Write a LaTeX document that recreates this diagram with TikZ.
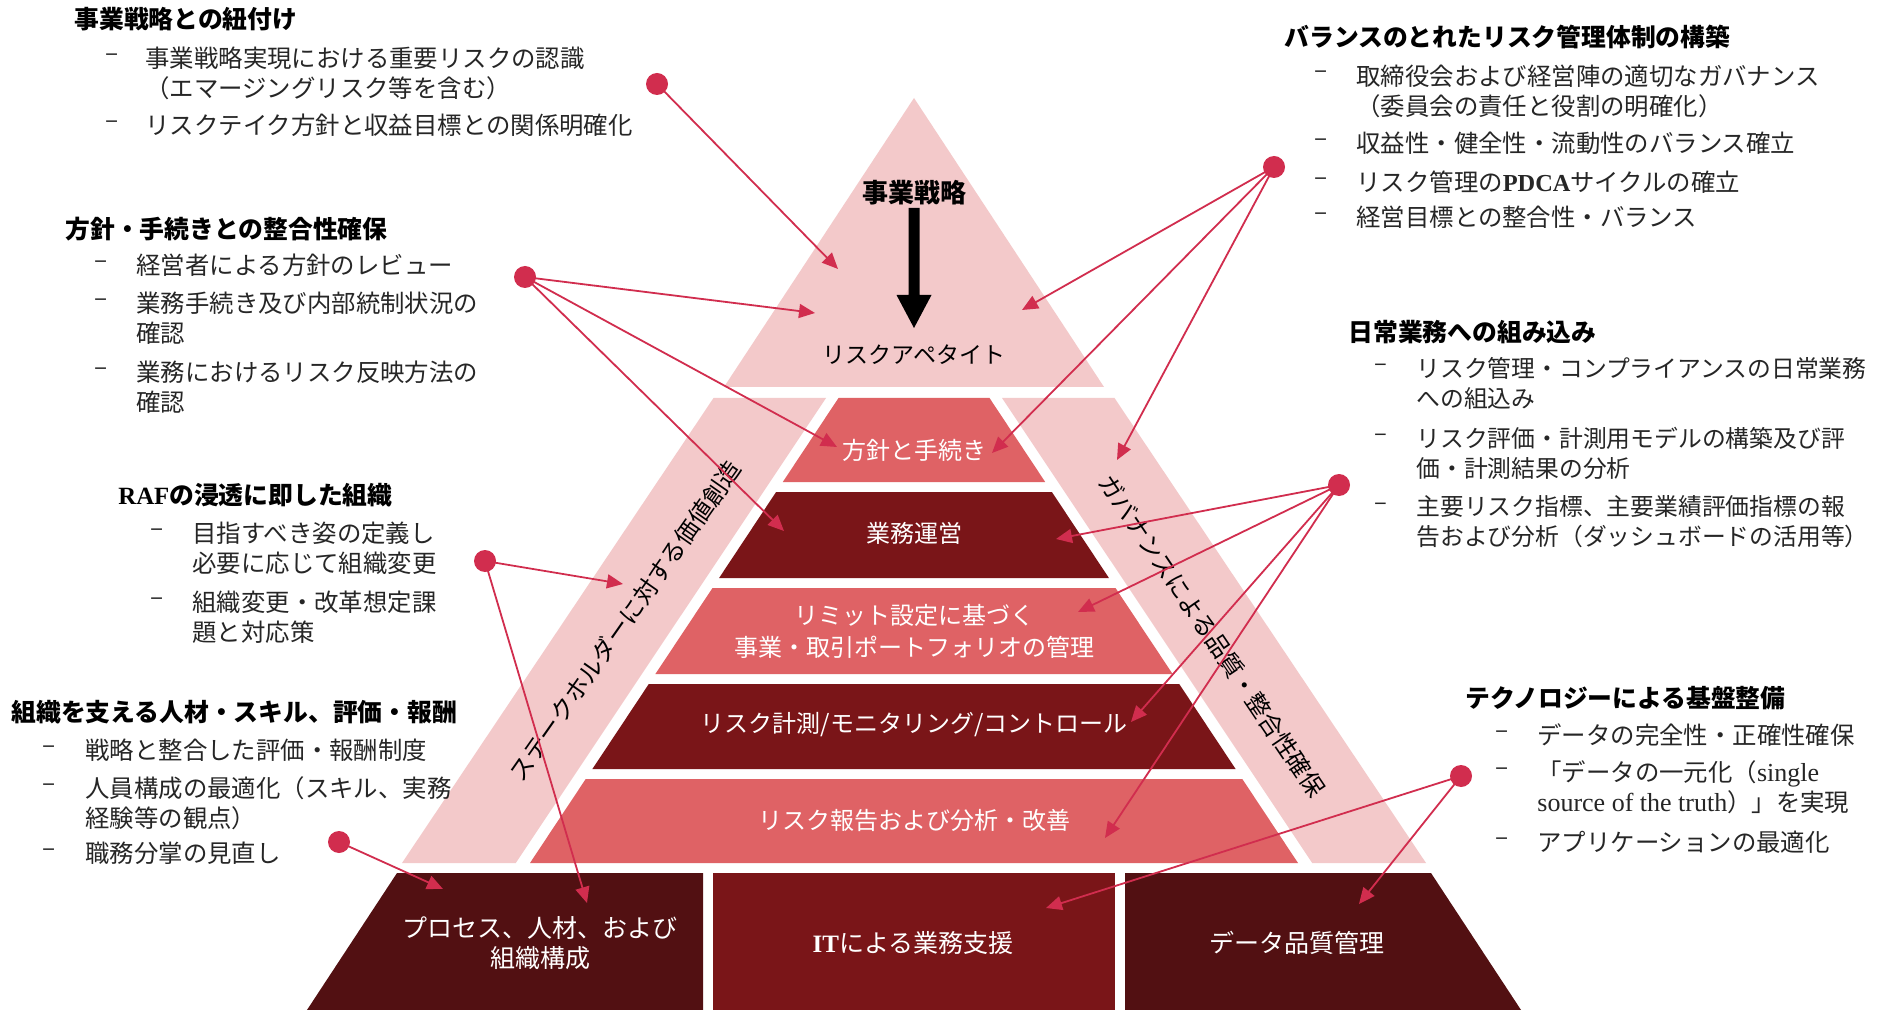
\documentclass[tikz,border=0pt]{standalone}
\usepackage{fontspec}
\setmainfont{Noto Sans CJK JP}
\newfontfamily\lat{Liberation Serif}
\usetikzlibrary{arrows.meta}
\definecolor{lpink}{HTML}{F3C9CA}
\definecolor{mred}{HTML}{DF6265}
\definecolor{dred}{HTML}{7A1518}
\definecolor{ddred}{HTML}{521012}
\definecolor{conn}{HTML}{D12D4E}
\definecolor{txt}{HTML}{262626}
\begin{document}
\begin{tikzpicture}[x=0.5pt,y=-0.5pt,
  body/.style={font=\fontsize{12.2}{15}\selectfont, anchor=west, inner sep=0pt, align=left, text=txt},
  bodyf/.style={font=\fontsize{11.9}{15}\selectfont, anchor=west, inner sep=0pt, align=left, text=txt},
  head/.style={font=\fontsize{12.4}{15}\selectfont\bfseries, anchor=west, inner sep=0pt, text=black},
  lay/.style={font=\fontsize{12}{16}\selectfont, text=white, align=center, inner sep=0pt},
  base/.style={font=\fontsize{12.5}{15}\selectfont, text=white, align=center, inner sep=0pt},
  side/.style={font=\fontsize{12}{15}\selectfont, text=black, inner sep=0pt},
  dotn/.style={circle, fill=conn, minimum size=11pt, inner sep=0pt},
  cn/.style={draw=conn, line width=0.9pt, -{Triangle[length=8pt,width=7pt]}}]
\useasboundingbox (0,0) rectangle (1879,1010);
\fill[white] (0,0) rectangle (1879,1010);

% top triangle
\fill[lpink] (914,98) -- (1104,387) -- (724,387) -- cycle;
% side bands
\fill[lpink] (713.5,398) -- (826,398) -- (515.8,863) -- (402,863) -- cycle;
\fill[lpink] (1002,398) -- (1114.5,398) -- (1426,863) -- (1312.2,863) -- cycle;
% centre layers
\fill[mred] (838.5,398) -- (989.5,398) -- (1045.2,482) -- (782.8,482) -- cycle;
\fill[dred] (776.1,492) -- (1051.9,492) -- (1108.9,578) -- (719.1,578) -- cycle;
\fill[mred] (712.5,588) -- (1115.5,588) -- (1172.6,674) -- (655.4,674) -- cycle;
\fill[dred] (648.8,684) -- (1179.2,684) -- (1235.6,769) -- (592.4,769) -- cycle;
\fill[mred] (585.7,779) -- (1242.3,779) -- (1298.0,863) -- (530.0,863) -- cycle;
% base
\fill[ddred] (397,873) -- (703,873) -- (703,1015) -- (303.7,1015) -- cycle;
\fill[dred] (713,873) -- (1115,873) -- (1115,1015) -- (713,1015) -- cycle;
\fill[ddred] (1125,873) -- (1431,873) -- (1524.3,1015) -- (1125,1015) -- cycle;
% black arrow
\fill[black] (908.5,208) -- (919.5,208) -- (919.5,295) -- (931.5,295) -- (914,328) -- (896.5,295) -- (908.5,295) -- cycle;

% pyramid texts
\node[font=\fontsize{13}{15}\selectfont\bfseries, inner sep=0pt] (P0) at (914,193) {事業戦略};
\node[font=\fontsize{11.5}{15}\selectfont, inner sep=0pt] (P1) at (914,355) {リスクアペタイト};
\node[lay] (L1) at (914,450) {方針と手続き};
\node[lay] (L2) at (914,533) {業務運営};
\node[lay] (L3) at (914,631) {リミット設定に基づく\\事業・取引ポートフォリオの管理};
\node[lay] (L4) at (914,725) {リスク計測/モニタリング/コントロール};
\node[lay] (L5) at (914,820) {リスク報告および分析・改善};
\node[base] (B1) at (540,943) {プロセス、人材、および\\組織構成};
\node[base] (B2) at (913,943) {{\lat\bfseries IT}による業務支援};
\node[base] (B3) at (1297,943) {データ品質管理};
\node[side, rotate=55] (S1) at (625,621) {ステークホルダーに対する価値創造};
\node[side, rotate=-56] (S2) at (1212,636) {ガバナンスによる品質・整合性確保};

% block A
\node[head] (ah) at (74,19) {事業戦略との紐付け};
\node[body] (ad1) at (105,58) {–};
\node[body] (at1) at (145,73) {事業戦略実現における重要リスクの認識\\（エマージングリスク等を含む）};
\node[body] (ad2) at (105,125) {–};
\node[body] (at2) at (145,125) {リスクテイク方針と収益目標との関係明確化};
% block B
\node[head] (bh) at (65,229) {方針・手続きとの整合性確保};
\node[body] (bd1) at (94,265) {–};
\node[body] (bt1) at (136,265) {経営者による方針のレビュー};
\node[body] (bd2) at (94,303) {–};
\node[body] (bt2) at (136,318) {業務手続き及び内部統制状況の\\確認};
\node[body] (bd3) at (94,372) {–};
\node[body] (bt3) at (136,387) {業務におけるリスク反映方法の\\確認};
% block C
\node[head] (ch) at (118,495) {{\lat\bfseries RAF}の浸透に即した組織};
\node[body] (cd1) at (150,533) {–};
\node[body] (ct1) at (192,548) {目指すべき姿の定義し\\必要に応じて組織変更};
\node[body] (cd2) at (150,602) {–};
\node[body] (ct2) at (192,617) {組織変更・改革想定課\\題と対応策};
% block D
\node[head] (dh) at (11,712) {組織を支える人材・スキル、評価・報酬};
\node[body] (dd1) at (42,750) {–};
\node[body] (dt1) at (85,750) {戦略と整合した評価・報酬制度};
\node[body] (dd2) at (42,788) {–};
\node[body] (dt2) at (85,803) {人員構成の最適化（スキル、実務\\経験等の観点）};
\node[body] (dd3) at (42,853) {–};
\node[body] (dt3) at (85,853) {職務分掌の見直し};
% block E
\node[head] (eh) at (1284,37) {バランスのとれたリスク管理体制の構築};
\node[body] (ed1) at (1314,75) {–};
\node[body] (et1) at (1356,91) {取締役会および経営陣の適切なガバナンス\\（委員会の責任と役割の明確化）};
\node[body] (ed2) at (1314,143) {–};
\node[body] (et2) at (1356,143) {収益性・健全性・流動性のバランス確立};
\node[body] (ed3) at (1314,182) {–};
\node[body] (et3) at (1356,182) {リスク管理の{\lat\bfseries PDCA}サイクルの確立};
\node[body] (ed4) at (1314,217) {–};
\node[body] (et4) at (1356,217) {経営目標との整合性・バランス};
% block F
\node[head] (fh) at (1348,332) {日常業務への組み込み};
\node[bodyf] (fd1) at (1374,368) {–};
\node[bodyf] (ft1) at (1416,383) {リスク管理・コンプライアンスの日常業務\\への組込み};
\node[bodyf] (fd2) at (1374,438) {–};
\node[bodyf] (ft2) at (1416,453) {リスク評価・計測用モデルの構築及び評\\価・計測結果の分析};
\node[bodyf] (fd3) at (1374,507) {–};
\node[bodyf] (ft3) at (1416,522) {主要リスク指標、主要業績評価指標の報\\告および分析（ダッシュボードの活用等）};
% block G
\node[head] (gh) at (1465,698) {テクノロジーによる基盤整備};
\node[body] (gd1) at (1495,735) {–};
\node[body] (gt1) at (1537,735) {データの完全性・正確性確保};
\node[body] (gd2) at (1495,772) {–};
\node[body] (gt2) at (1537,787.5) {「データの一元化（{\lat\fontsize{13}{15}\selectfont single}\\{\lat\fontsize{13}{15}\selectfont source of the truth}）」を実現};
\node[body] (gd3) at (1495,842) {–};
\node[body] (gt3) at (1537,842) {アプリケーションの最適化};

% connector ends
\coordinate (e11) at (838,269);
\coordinate (e21) at (815,313);
\coordinate (e22) at (837,447);
\coordinate (e23) at (784,531);
\coordinate (e31) at (1022,310);
\coordinate (e32) at (992,453);
\coordinate (e33) at (1117,460);
\coordinate (e41) at (1056,539);
\coordinate (e42) at (1078,612);
\coordinate (e43) at (1131,722);
\coordinate (e44) at (1105,838);
\coordinate (e51) at (623,584);
\coordinate (e52) at (587,903);
\coordinate (e61) at (443,889);
\coordinate (e71) at (1046,908);
\coordinate (e72) at (1359,904);

% dots
\node[dotn] (d1) at (657,84) {};
\node[dotn] (d2) at (525,277) {};
\node[dotn] (d3) at (1274,167) {};
\node[dotn] (d4) at (1339,485) {};
\node[dotn] (d5) at (485,561) {};
\node[dotn] (d6) at (339,842) {};
\node[dotn] (d7) at (1461,776) {};

% connectors
\draw[cn] (d1.center) -- (e11);
\draw[cn] (d2.center) -- (e21);
\draw[cn] (d2.center) -- (e22);
\draw[cn] (d2.center) -- (e23);
\draw[cn] (d3.center) -- (e31);
\draw[cn] (d3.center) -- (e32);
\draw[cn] (d3.center) -- (e33);
\draw[cn] (d4.center) -- (e41);
\draw[cn] (d4.center) -- (e42);
\draw[cn] (d4.center) -- (e43);
\draw[cn] (d4.center) -- (e44);
\draw[cn] (d5.center) -- (e51);
\draw[cn] (d5.center) -- (e52);
\draw[cn] (d6.center) -- (e61);
\draw[cn] (d7.center) -- (e71);
\draw[cn] (d7.center) -- (e72);
\end{tikzpicture}
\end{document}
